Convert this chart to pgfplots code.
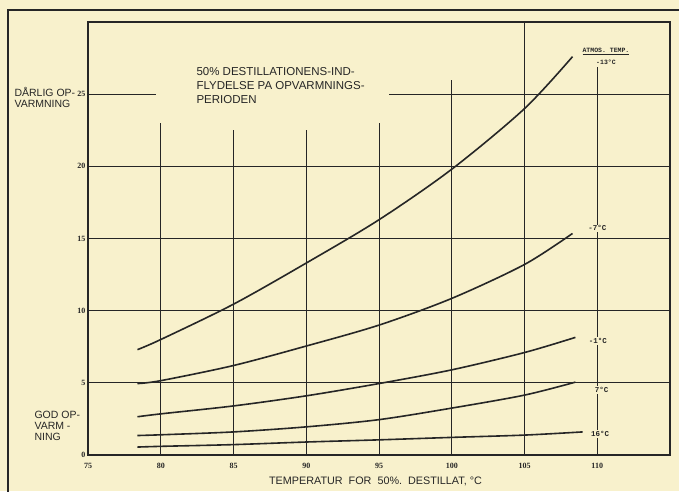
\documentclass[border=0pt]{standalone}
\usepackage{fontspec}
\setmainfont{Liberation Sans}
\newfontfamily\tickfont{Liberation Serif}
\newfontfamily\typefont{Liberation Mono}
\usepackage{pgfplots}
\pgfplotsset{compat=1.18}
\definecolor{paper}{HTML}{F8F1CC}
\definecolor{ink}{HTML}{262626}
\begin{document}
\begin{tikzpicture}[x=1pt,y=1pt]
\fill[paper] (0,0) rectangle (679,491);
\useasboundingbox (0,0) rectangle (679,491);
\draw[ink, line width=2.6pt] (8,-5) -- (8,481) -- (690,481);
\begin{axis}[
  at={(88pt,36pt)}, anchor=south west,
  scale only axis, width=582pt, height=433pt,
  xmin=75, xmax=115, ymin=0, ymax=30,
  xtick={75,80,85,90,95,100,105,110},
  xticklabels={75,80,85,90,95,100,105,110},
  ytick={0,5,10,15,20,25},
  yticklabels={0,5,10,15,20,25},
  major tick length=0pt,
  axis line style={draw=ink, line width=1.1pt},
  xticklabel style={font=\tickfont\bfseries\fontsize{8}{9}\selectfont, yshift=-4.5pt, text=ink},
  yticklabel style={font=\tickfont\bfseries\fontsize{8}{9}\selectfont, xshift=1pt, text=ink},
  clip=false,
]
% grid
\draw[ink, line width=0.9pt] (axis cs:75,5) -- (axis cs:115,5);
\draw[ink, line width=0.9pt] (axis cs:75,10) -- (axis cs:115,10);
\draw[ink, line width=0.9pt] (axis cs:75,15) -- (axis cs:115,15);
\draw[ink, line width=0.9pt] (axis cs:75,20) -- (axis cs:115,20);
\draw[ink, line width=0.9pt] (axis cs:75,25) -- (axis cs:79.66,25);
\draw[ink, line width=0.9pt] (axis cs:95.7,25) -- (axis cs:115,25);
\draw[ink, line width=0.9pt] (axis cs:80,0) -- (axis cs:80,23);
\draw[ink, line width=0.9pt] (axis cs:85,0) -- (axis cs:85,22.5);
\draw[ink, line width=0.9pt] (axis cs:90,0) -- (axis cs:90,22.5);
\draw[ink, line width=0.9pt] (axis cs:95,0) -- (axis cs:95,23);
\draw[ink, line width=0.9pt] (axis cs:100,0) -- (axis cs:100,26);
\draw[ink, line width=0.9pt] (axis cs:105,0) -- (axis cs:105,30);
\draw[ink, line width=0.9pt] (axis cs:110,0) -- (axis cs:110,26.9);
\draw[ink, line width=1.6pt] (axis cs:75,30) -- (axis cs:75,0) -- (axis cs:115,0);
% curves
\addplot[ink, line width=1.6pt, smooth] coordinates {(78.4,7.3) (80,8.0) (85,10.45) (90,13.3) (95,16.3) (100,19.8) (105,24.0) (108.3,27.6)};
\addplot[ink, line width=1.6pt, smooth] coordinates {(78.4,4.95) (80,5.15) (85,6.2) (90,7.55) (95,9.0) (100,10.85) (105,13.2) (108.3,15.35)};
\addplot[ink, line width=1.6pt, smooth] coordinates {(78.4,2.65) (80,2.85) (85,3.4) (90,4.1) (95,4.95) (100,5.9) (105,7.1) (108.5,8.15)};
\addplot[ink, line width=1.6pt, smooth] coordinates {(78.4,1.35) (80,1.4) (85,1.6) (90,1.95) (95,2.45) (100,3.25) (105,4.15) (108.5,5.05)};
\addplot[ink, line width=1.6pt, smooth] coordinates {(78.4,0.55) (80,0.6) (85,0.72) (90,0.9) (95,1.05) (100,1.22) (105,1.38) (109,1.6)};
% curve labels
\tikzset{clab/.style={fill=paper, inner sep=1pt, text=ink, font=\typefont\bfseries\fontsize{7.5}{8}\selectfont}}
\node[clab, inner sep=0.5pt, font=\typefont\bfseries\fontsize{6.5}{7}\selectfont] at (axis cs:110.6,27.95) {\underline{ATMOS. TEMP.}};
\node[clab, inner sep=0.5pt, font=\typefont\bfseries\fontsize{6.5}{7}\selectfont] at (axis cs:110.6,27.2) {-13°C};
\node[clab] at (axis cs:110.0,15.7) {-7°C};
\node[clab] at (axis cs:110.05,7.9) {-1°C};
\node[clab] at (axis cs:110.3,4.5) {7°C};
\node[clab] at (axis cs:110.2,1.45) {16°C};
\end{axis}
% texts
\node[anchor=west, align=left, text=ink, font=\fontsize{10.5}{10.5}\selectfont] at (11,393.5) {DÅRLIG OP-\\VARMNING};
\node[anchor=west, align=left, text=ink, font=\fontsize{10.5}{11}\selectfont] at (31,65) {GOD OP-\\VARM -\\NING};
\node[anchor=west, align=left, text=ink, font=\fontsize{11.5}{14}\selectfont] at (193,405) {50\% DESTILLATIONENS-IND-\\FLYDELSE PA OPVARMNINGS-\\PERIODEN};
\node[text=ink, font=\fontsize{10.8}{12}\selectfont] at (375.5,10) {TEMPERATUR\ \ FOR\ \ 50\%.\ \ DESTILLAT, °C};
\end{tikzpicture}
\end{document}
